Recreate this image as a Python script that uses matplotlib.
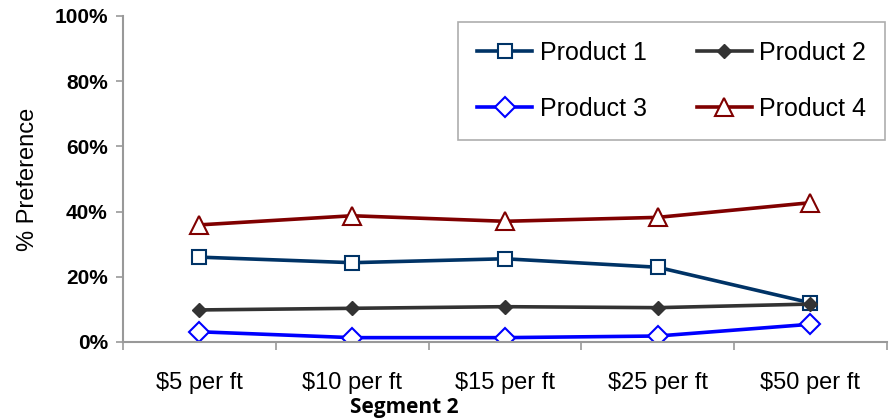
import matplotlib.pyplot as plt
from matplotlib.ticker import FixedLocator, NullFormatter, FuncFormatter

plt.rcParams['font.family'] = ['Liberation Sans', 'DejaVu Sans']

categories = ["$5 per ft", "$10 per ft", "$15 per ft", "$25 per ft", "$50 per ft"]
product_1 = [26.0, 24.3, 25.5, 22.9, 12.0]
product_2 = [9.8, 10.3, 10.8, 10.5, 11.6]
product_3 = [3.1, 1.3, 1.3, 1.8, 5.4]
product_4 = [35.9, 38.7, 37.0, 38.2, 42.7]

fig = plt.figure(figsize=(8.92, 4.2), dpi=100)
ax = fig.add_axes([0.138, 0.186, 0.856, 0.776])

x = list(range(len(categories)))
l1, = ax.plot(x, product_1, color="#003366", lw=2.6, marker="s", ms=9.5,
              mfc="white", mec="#003366", mew=1.5, label="Product 1")
l2, = ax.plot(x, product_2, color="#333333", lw=2.6, marker="D", ms=7,
              mfc="#333333", mec="#333333", label="Product 2")
l3, = ax.plot(x, product_3, color="#0000ff", lw=2.6, marker="D", ms=10,
              mfc="white", mec="#0000ff", mew=1.5, label="Product 3")
l4, = ax.plot(x, product_4, color="#800000", lw=2.6, marker="^", ms=13,
              mfc="white", mec="#800000", mew=1.5, label="Product 4")

ax.set_xlim(-0.5, len(categories) - 0.5)
ax.set_ylim(0, 100)
ax.set_yticks(range(0, 101, 20))
ax.yaxis.set_major_formatter(FuncFormatter(lambda v, p: f"{int(v)}%"))
for t in ax.get_yticklabels():
    t.set_fontweight("bold")
    t.set_fontsize(15)

ax.set_xticks(x)
ax.set_xticklabels(categories, fontsize=17)
ax.tick_params(axis="x", which="major", length=0, pad=22)
ax.xaxis.set_minor_locator(FixedLocator([i - 0.5 for i in range(len(categories) + 1)]))
ax.xaxis.set_minor_formatter(NullFormatter())
ax.tick_params(axis="x", which="minor", length=6, color="#999999", width=1.2)
ax.tick_params(axis="y", length=5, color="#999999", width=1.2, pad=6)

for s in ["top", "right"]:
    ax.spines[s].set_visible(False)
for s in ["left", "bottom"]:
    ax.spines[s].set_color("#999999")
    ax.spines[s].set_linewidth(1.5)

ax.set_ylabel("% Preference", fontsize=17, labelpad=11)
fig.text(0.453, 0.029, "Segment 2", fontsize=15, fontweight="bold",
         family=["Open Sans", "DejaVu Sans"], ha="center", va="center")

leg = fig.legend([l1, l3, l2, l4], ["Product 1", "Product 3", "Product 2", "Product 4"],
                 ncol=2, loc="upper right", bbox_to_anchor=(0.992, 0.948),
                 fontsize=18, fancybox=False, edgecolor="#999999",
                 handlelength=2.2, columnspacing=2.0, labelspacing=1.3,
                 borderpad=0.75, handletextpad=0.3, borderaxespad=0)
leg.get_frame().set_linewidth(1.2)

fig.savefig("out.png", dpi=100)
